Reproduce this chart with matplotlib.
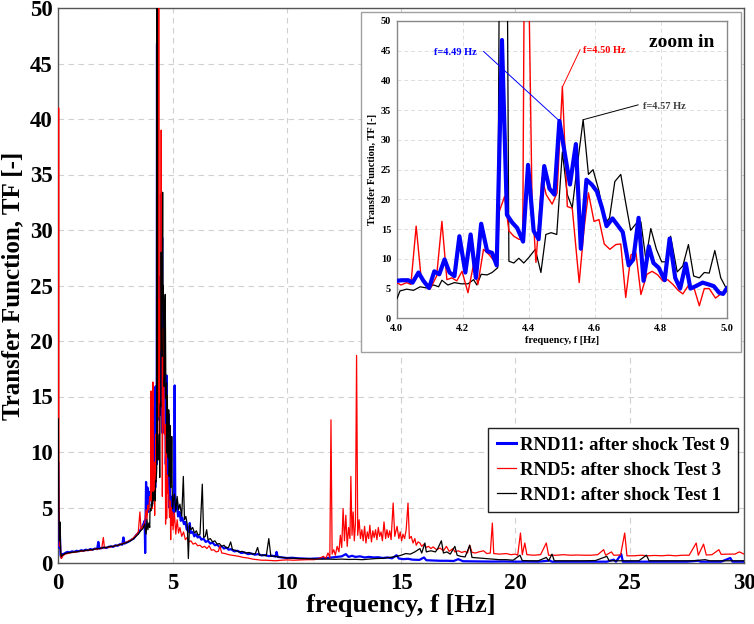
import matplotlib
matplotlib.use("Agg")
import matplotlib.pyplot as plt
from matplotlib.patches import Rectangle
import numpy as np

plt.rcParams['font.family'] = ['Liberation Serif', 'DejaVu Serif']
plt.rcParams['font.weight'] = 'bold'

# ---------------- data (frequency [Hz], TF [-]) ----------------
blue_low = [(0.00, 9.0), (0.02, 3.5), (0.04, 1.4), (0.07, 2.6), (0.10, 0.7), (0.13, 0.5), (0.17, 0.8),
            (0.22, 0.8), (0.30, 0.9), (0.40, 1.0), (0.50, 0.95), (0.60, 1.05), (0.70, 1.0), (0.80, 1.1),
            (0.90, 1.05), (1.00, 1.15), (1.10, 1.1), (1.20, 1.2), (1.30, 1.15), (1.40, 1.25), (1.50, 1.2),
            (1.60, 1.3), (1.70, 1.25), (1.75, 1.9), (1.80, 1.3), (1.90, 1.35), (2.00, 1.4), (2.10, 1.35),
            (2.20, 1.45), (2.30, 1.5), (2.40, 1.45), (2.50, 1.6), (2.60, 1.55), (2.70, 1.7), (2.80, 1.65),
            (2.85, 2.3), (2.90, 1.75), (3.00, 1.85), (3.10, 1.95), (3.20, 2.1), (3.30, 2.2), (3.40, 2.5),
            (3.50, 2.7), (3.60, 3.0), (3.70, 3.4), (3.78, 3.8), (3.80, 0.9), (3.84, 7.3), (3.87, 4.5),
            (3.90, 6.8), (3.93, 4.6), (3.96, 5.5)]
blue_zoom = [(4.000, 6.3), (4.015, 6.4), (4.035, 6.4), (4.048, 6.0), (4.066, 7.7), (4.081, 6.3), (4.098, 5.1),
             (4.114, 7.9), (4.129, 7.4), (4.145, 9.9), (4.160, 7.7), (4.175, 7.1), (4.190, 13.8), (4.208, 7.7),
             (4.224, 14.1), (4.240, 6.8), (4.256, 15.9), (4.274, 11.3), (4.289, 11.0), (4.303, 8.9),
             (4.319, 46.8), (4.334, 17.4), (4.350, 16.1), (4.365, 15.2), (4.383, 12.9), (4.398, 25.8),
             (4.415, 14.7), (4.430, 13.3), (4.447, 25.6), (4.463, 21.8), (4.478, 20.8), (4.493, 33.2),
             (4.525, 22.5), (4.543, 29.3), (4.558, 11.7), (4.575, 23.3), (4.591, 22.5), (4.607, 21.3),
             (4.622, 18.6), (4.636, 15.5), (4.654, 16.8), (4.669, 15.7), (4.685, 14.5), (4.703, 8.9),
             (4.717, 9.9), (4.733, 16.9), (4.748, 6.3), (4.764, 12.1), (4.778, 9.3), (4.794, 8.5),
             (4.812, 6.4), (4.827, 13.4), (4.844, 6.8), (4.859, 5.0), (4.876, 9.2), (4.890, 5.0),
             (4.906, 5.4), (4.927, 6.0), (4.945, 5.7), (4.961, 5.4), (4.977, 4.3), (4.989, 4.1), (5.000, 5.0)]
blue_high = [(5.02, 6.0), (5.06, 4.5), (5.09, 16.0), (5.12, 4.8), (5.18, 5.7), (5.24, 4.2), (5.30, 4.6),
             (5.36, 3.8), (5.42, 4.1), (5.50, 3.5), (5.56, 3.7), (5.62, 3.0), (5.70, 3.2), (5.72, 2.8),
             (5.75, 3.6), (5.80, 2.7), (5.88, 2.8), (5.95, 2.4), (6.02, 2.6), (6.10, 2.3), (6.18, 2.4),
             (6.26, 2.1), (6.35, 2.2), (6.45, 1.9), (6.55, 2.0), (6.65, 1.75), (6.75, 1.85), (6.85, 1.6),
             (6.95, 1.65), (7.05, 1.45), (7.15, 1.5), (7.25, 1.3), (7.35, 1.4), (7.45, 1.2), (7.55, 1.25),
             (7.70, 1.05), (7.85, 1.1), (8.00, 0.9), (8.15, 0.95), (8.30, 0.8), (8.45, 0.85), (8.60, 0.75),
             (8.75, 0.8), (8.90, 0.68), (9.05, 0.72), (9.20, 0.62), (9.35, 0.66), (9.50, 0.58), (9.55, 1.0),
             (9.60, 0.55), (9.80, 0.5), (10.0, 0.45), (10.25, 0.47), (10.5, 0.42), (10.75, 0.4), (11.0, 0.38),
             (11.25, 0.4), (11.5, 0.42), (11.75, 0.45), (12.0, 0.5), (12.2, 0.55), (12.4, 0.6), (12.58, 0.8),
             (12.7, 0.55), (12.85, 0.65), (13.0, 0.55), (13.2, 0.6), (13.4, 0.5), (13.6, 0.55), (13.8, 0.5),
             (14.0, 0.52), (14.2, 0.45), (14.4, 0.5), (14.6, 0.42), (14.8, 0.7), (14.9, 0.4), (15.1, 0.35),
             (15.3, 0.38), (15.5, 0.3), (15.8, 0.28), (16.0, 0.5), (16.1, 0.25), (16.4, 0.22), (16.7, 0.2),
             (17.0, 0.2), (17.3, 0.18), (17.5, 0.35), (17.7, 0.16), (18.0, 0.15), (18.5, 0.14), (19.0, 0.13),
             (19.5, 0.14), (20.0, 0.12), (20.5, 0.13), (21.0, 0.12), (21.5, 0.22), (21.6, 0.12), (22.0, 0.12),
             (22.5, 0.13), (23.0, 0.12), (23.5, 0.13), (24.0, 0.12), (24.3, 0.3), (24.4, 0.12), (24.63, 0.8),
             (24.7, 0.12), (25.0, 0.12), (25.5, 0.13), (26.0, 0.12), (26.5, 0.13), (27.0, 0.12), (27.5, 0.12),
             (28.0, 0.2), (28.1, 0.12), (28.5, 0.12), (29.0, 0.12), (29.4, 0.45), (29.5, 0.12), (30.0, 0.12)]

red_low = [(0.00, 8.0), (0.015, 41.0), (0.03, 6.0), (0.05, 1.5), (0.08, 2.8), (0.11, 0.5), (0.14, 0.4),
           (0.18, 0.6), (0.24, 0.7), (0.30, 0.8), (0.40, 0.85), (0.50, 0.9), (0.60, 0.95), (0.70, 0.95),
           (0.80, 1.0), (0.90, 1.05), (1.00, 1.05), (1.10, 1.1), (1.20, 1.1), (1.30, 1.15), (1.40, 1.15),
           (1.50, 1.2), (1.60, 1.25), (1.70, 1.25), (1.80, 1.3), (1.90, 1.3), (1.97, 2.3), (2.02, 1.35),
           (2.10, 1.4), (2.20, 1.4), (2.30, 1.45), (2.40, 1.5), (2.50, 1.55), (2.60, 1.6), (2.70, 1.65),
           (2.80, 1.75), (2.90, 1.8), (3.00, 1.9), (3.10, 2.0), (3.20, 2.1), (3.30, 2.3), (3.40, 2.5),
           (3.50, 2.8), (3.57, 4.6), (3.62, 3.0), (3.70, 3.3), (3.78, 3.6), (3.84, 4.8), (3.88, 3.9),
           (3.92, 5.2), (3.96, 4.8)]
red_zoom = [(4.000, 6.0), (4.013, 5.6), (4.030, 6.0), (4.043, 5.7), (4.059, 15.5), (4.074, 6.8), (4.088, 6.0),
            (4.101, 4.9), (4.121, 7.1), (4.137, 16.3), (4.152, 6.5), (4.167, 6.8), (4.182, 6.3), (4.198, 7.9),
            (4.216, 4.3), (4.233, 9.1), (4.246, 5.7), (4.263, 11.6), (4.280, 10.7), (4.296, 9.6),
            (4.304, 9.6), (4.311, 18.0), (4.327, 20.5), (4.340, 14.7), (4.355, 13.8), (4.370, 13.3),
            (4.382, 13.2), (4.390, 95.0), (4.410, 20.0), (4.422, 9.4), (4.440, 23.7), (4.453, 20.8),
            (4.471, 19.2), (4.486, 21.1), (4.502, 39.0), (4.517, 18.8), (4.532, 18.5), (4.553, 6.0),
            (4.568, 15.2), (4.581, 21.1), (4.598, 16.3), (4.613, 16.6), (4.629, 12.5), (4.646, 11.6),
            (4.664, 12.4), (4.679, 12.5), (4.694, 3.5), (4.710, 10.7), (4.725, 11.0), (4.740, 4.0),
            (4.758, 7.4), (4.774, 7.9), (4.791, 7.3), (4.806, 6.3), (4.821, 6.5), (4.837, 5.7), (4.853, 4.7),
            (4.867, 4.1), (4.885, 5.6), (4.902, 4.9), (4.917, 2.1), (4.932, 5.0), (4.947, 5.0), (4.966, 3.4),
            (4.980, 4.0), (5.000, 4.6)]
red_high = [(5.02, 3.0), (5.08, 4.5), (5.14, 2.6), (5.20, 3.9), (5.26, 2.7), (5.32, 3.2), (5.40, 2.4),
            (5.48, 2.8), (5.56, 2.1), (5.64, 2.3), (5.72, 1.9), (5.80, 2.0), (5.90, 1.7), (6.00, 1.8),
            (6.10, 1.55), (6.20, 1.6), (6.30, 1.4), (6.40, 1.5), (6.50, 1.3), (6.60, 1.55), (6.70, 1.15),
            (6.80, 1.2), (6.90, 1.0), (7.00, 1.05), (7.07, 1.5), (7.15, 0.9), (7.30, 0.85), (7.45, 0.75),
            (7.60, 0.7), (7.75, 0.65), (7.90, 0.6), (8.10, 0.5), (8.30, 0.45), (8.50, 0.35), (8.70, 0.3),
            (8.90, 0.25), (9.10, 0.25), (9.30, 0.22), (9.50, 0.2), (9.75, 0.25), (10.0, 0.28), (10.3, 0.25),
            (10.6, 0.28), (10.9, 0.3), (11.2, 0.3), (11.4, 0.4), (11.6, 0.6), (11.7, 0.4), (11.8, 0.9),
            (11.88, 0.5), (11.93, 12.9), (11.98, 0.8), (12.05, 1.2), (12.12, 0.7), (12.2, 1.5), (12.28, 1.0),
            (12.34, 2.5), (12.40, 1.4), (12.46, 4.9), (12.52, 2.0), (12.58, 4.3), (12.64, 1.5), (12.70, 3.2),
            (12.76, 2.2), (12.80, 7.8), (12.85, 2.5), (12.90, 4.6), (12.95, 2.0), (13.00, 3.5), (13.05, 18.7),
            (13.10, 2.5), (13.16, 3.9), (13.22, 2.2), (13.28, 3.0), (13.34, 2.0), (13.40, 3.3), (13.46, 1.8),
            (13.52, 2.8), (13.58, 2.2), (13.63, 3.4), (13.70, 1.9), (13.76, 2.9), (13.82, 2.3), (13.88, 3.0),
            (13.94, 2.1), (14.00, 3.2), (14.06, 2.4), (14.12, 2.8), (14.18, 2.0), (14.25, 3.7), (14.32, 2.2),
            (14.38, 3.0), (14.44, 2.3), (14.50, 2.9), (14.56, 2.1), (14.65, 5.4), (14.72, 2.4), (14.82, 3.3),
            (14.90, 2.2), (14.96, 2.8), (15.02, 2.0), (15.08, 2.6), (15.15, 2.2), (15.22, 3.0), (15.30, 5.4),
            (15.36, 2.2), (15.44, 2.4), (15.52, 1.8), (15.60, 2.2), (15.66, 1.6), (15.74, 1.9), (15.82, 1.8),
            (15.90, 1.5), (16.0, 1.7), (16.1, 1.4), (16.2, 1.5), (16.3, 1.3), (16.4, 1.45), (16.55, 1.2),
            (16.7, 1.35), (16.85, 1.1), (16.98, 1.5), (17.1, 1.05), (17.27, 1.3), (17.35, 1.0), (17.5, 1.1),
            (17.65, 0.95), (17.8, 1.05), (17.9, 0.9), (18.0, 1.6), (18.1, 0.95), (18.25, 0.9), (18.4, 1.0),
            (18.6, 1.1), (18.75, 0.85), (18.9, 0.9), (18.99, 3.6), (19.05, 0.85), (19.3, 0.8), (19.6, 0.85),
            (19.8, 0.75), (20.0, 0.8), (20.1, 0.7), (20.22, 2.7), (20.3, 0.75), (20.41, 1.8), (20.5, 0.75),
            (20.8, 0.7), (21.1, 0.75), (21.35, 1.8), (21.45, 0.7), (21.8, 0.7), (22.1, 0.75), (22.4, 0.7),
            (22.7, 0.72), (23.0, 0.7), (23.3, 0.7), (23.6, 0.75), (23.86, 1.2), (23.95, 0.7), (24.2, 1.0),
            (24.3, 0.7), (24.6, 0.72), (24.78, 2.7), (24.88, 0.65), (25.2, 0.65), (25.5, 0.7), (25.8, 0.65),
            (26.1, 0.68), (26.4, 0.65), (26.7, 0.7), (27.0, 0.65), (27.3, 0.7), (27.6, 0.7), (27.91, 1.8),
            (28.0, 0.7), (28.23, 1.7), (28.35, 0.72), (28.6, 0.75), (28.9, 1.2), (29.0, 0.78), (29.3, 0.8),
            (29.6, 0.8), (29.8, 1.0), (30.0, 0.8)]

black_low = [(0.00, 13.0), (0.02, 5.0), (0.05, 2.0), (0.07, 3.7), (0.10, 1.0), (0.13, 0.6), (0.17, 0.7),
             (0.22, 0.75), (0.30, 0.85), (0.40, 0.9), (0.50, 0.95), (0.60, 0.95), (0.70, 1.0), (0.80, 1.0),
             (0.90, 1.05), (1.00, 1.1), (1.10, 1.1), (1.20, 1.15), (1.30, 1.15), (1.40, 1.2), (1.50, 1.2),
             (1.60, 1.25), (1.70, 1.3), (1.80, 1.3), (1.90, 1.35), (2.00, 1.4), (2.10, 1.4), (2.20, 1.45),
             (2.30, 1.5), (2.40, 1.5), (2.50, 1.55), (2.60, 1.6), (2.70, 1.65), (2.80, 1.7), (2.90, 1.8),
             (3.00, 1.85), (3.10, 1.95), (3.20, 2.05), (3.30, 2.2), (3.40, 2.4), (3.50, 2.6), (3.60, 2.9),
             (3.70, 3.1), (3.78, 3.5), (3.84, 2.6), (3.88, 3.9), (3.92, 3.0), (3.96, 3.6)]
black_zoom = [(4.000, 3.2), (4.010, 4.6), (4.030, 4.9), (4.051, 4.7), (4.071, 5.3), (4.091, 5.1), (4.112, 5.6),
              (4.127, 5.3), (4.137, 6.4), (4.155, 5.6), (4.175, 6.0), (4.196, 5.8), (4.216, 5.8), (4.233, 6.5),
              (4.243, 5.6), (4.256, 7.4), (4.274, 7.3), (4.289, 7.7), (4.306, 8.5), (4.316, 110.0),
              (4.330, 110.0), (4.340, 9.6), (4.355, 9.3), (4.370, 10.1), (4.385, 9.3), (4.400, 10.2),
              (4.420, 11.6), (4.437, 7.7), (4.452, 14.1), (4.468, 14.4), (4.485, 14.1), (4.502, 28.0),
              (4.517, 20.8), (4.532, 18.6), (4.548, 26.0), (4.565, 33.4), (4.581, 24.2), (4.595, 25.0),
              (4.613, 21.4), (4.631, 15.9), (4.645, 16.9), (4.661, 23.0), (4.679, 24.2), (4.694, 19.4),
              (4.709, 14.8), (4.725, 15.9), (4.740, 16.2), (4.755, 9.9), (4.770, 15.1), (4.787, 11.6),
              (4.803, 9.5), (4.820, 9.5), (4.830, 13.8), (4.850, 7.8), (4.867, 8.8), (4.884, 12.4),
              (4.900, 7.1), (4.917, 6.8), (4.932, 7.7), (4.947, 7.6), (4.964, 11.4), (4.982, 6.8), (5.000, 4.9)]
black_high = [(5.02, 5.5), (5.08, 6.2), (5.14, 4.6), (5.20, 6.0), (5.26, 4.8), (5.32, 5.3), (5.40, 4.2),
              (5.47, 7.8), (5.52, 3.9), (5.58, 4.2), (5.64, 3.5), (5.69, 0.4), (5.74, 3.4), (5.80, 3.0),
              (5.88, 3.2), (5.96, 2.7), (6.04, 2.9), (6.12, 2.5), (6.20, 2.6), (6.30, 7.1), (6.36, 2.3),
              (6.43, 2.4), (6.49, 3.0), (6.55, 2.1), (6.65, 2.2), (6.75, 1.9), (6.85, 2.0), (6.95, 1.7),
              (7.05, 1.75), (7.15, 1.5), (7.25, 1.6), (7.35, 1.35), (7.45, 1.4), (7.54, 1.9), (7.62, 1.2),
              (7.75, 1.15), (7.90, 1.0), (8.05, 1.05), (8.20, 0.9), (8.35, 0.95), (8.50, 0.8), (8.62, 0.85),
              (8.72, 1.4), (8.80, 0.7), (8.95, 0.72), (9.10, 0.65), (9.21, 2.2), (9.30, 0.6), (9.45, 0.62),
              (9.60, 0.55), (9.80, 0.5), (10.0, 0.45), (10.3, 0.42), (10.6, 0.4), (10.9, 0.38), (11.2, 0.36),
              (11.5, 0.35), (11.8, 0.35), (12.1, 0.33), (12.4, 0.35), (12.7, 0.32), (13.0, 0.33), (13.3, 0.3),
              (13.6, 0.35), (13.9, 0.4), (14.2, 0.42), (14.5, 0.5), (14.8, 0.6), (15.0, 0.7), (15.2, 0.85),
              (15.4, 0.8), (15.6, 1.0), (15.82, 1.3), (15.9, 0.9), (16.04, 1.8), (16.1, 1.0), (16.3, 1.1),
              (16.5, 1.0), (16.6, 1.3), (16.76, 2.0), (16.85, 0.9), (17.0, 1.0), (17.15, 0.8), (17.35, 1.5),
              (17.45, 0.7), (17.6, 0.6), (17.8, 0.55), (18.0, 1.6), (18.1, 0.5), (18.4, 0.45), (18.7, 0.4),
              (19.0, 0.35), (19.3, 0.3), (19.6, 0.3), (19.9, 0.25), (20.2, 0.7), (20.3, 0.22), (20.6, 0.2),
              (21.0, 0.2), (21.35, 0.5), (21.45, 0.2), (21.6, 0.8), (21.7, 0.2), (22.0, 0.2), (22.5, 0.2),
              (23.0, 0.2), (23.5, 0.22), (24.0, 0.6), (24.1, 0.2), (24.5, 0.2), (25.0, 0.2), (25.4, 0.2),
              (25.73, 0.7), (25.85, 0.2), (26.3, 0.2), (26.8, 0.2), (27.3, 0.2), (27.8, 0.2), (28.3, 0.3),
              (28.5, 0.2), (29.0, 0.2), (29.5, 0.2), (30.0, 0.2)]

labels = ["RND11: after shock Test 9", "RND5: after shock Test 3", "RND1: after shock Test 1"]
main_xticks = [0, 5, 10, 15, 20, 25, 30]
main_yticks = [0, 5, 10, 15, 20, 25, 30, 35, 40, 45, 50]
inset_xticks = [4.0, 4.2, 4.4, 4.6, 4.8, 5.0]

def unzip(*segs):
    pts = [p for s in segs for p in s]
    return np.array([p[0] for p in pts]), np.array([p[1] for p in pts])

bf, bv = unzip(blue_low, blue_zoom, blue_high)
rf, rv = unzip(red_low, red_zoom, red_high)
kf, kv = unzip(black_low, black_zoom, black_high)

BLUE = '#0000ff'
RED = '#ff0000'
BLACK = '#000000'

W, H = 754, 624
fig = plt.figure(figsize=(W / 100, H / 100), dpi=100)
ax = fig.add_axes([58.3 / W, 1 - 563 / H, (744 - 58.3) / W, (563 - 8) / H])

lb, = ax.plot(bf, bv, color=BLUE, lw=1.6, zorder=3)
lr, = ax.plot(rf, rv, color=RED, lw=0.9, zorder=4)
lk, = ax.plot(kf, kv, color=BLACK, lw=0.9, zorder=5)

ax.set_xlim(0, 30)
ax.set_ylim(0, 50)
ax.set_xticks(main_xticks)
ax.set_yticks(main_yticks)
ax.tick_params(length=0, labelsize=16.5)
ax.tick_params(axis='y', pad=4)
ax.tick_params(axis='x', pad=7)
for t in ax.get_xticklabels() + ax.get_yticklabels():
    t.set_fontweight('bold')
ax.grid(True, color='#d0d0d0', lw=0.8, linestyle=(0, (5, 4)))
ax.set_axisbelow(True)
for s in ax.spines.values():
    s.set_color('#555555')
    s.set_linewidth(1.0)
ax.set_xlabel("frequency, f [Hz]", fontsize=19, fontweight='bold')
ax.xaxis.set_label_coords(0.5, -0.056)
ax.xaxis.label.set_va('top')
ax.set_ylabel("Transfer Function, TF [-]", fontsize=18, fontweight='bold')
ax.yaxis.set_label_coords(-0.049, 0.5)

leg = ax.legend([lb, lr, lk], labels, loc='lower right', bbox_to_anchor=(0.991, 0.092),
                fancybox=False, framealpha=1, edgecolor='#222222', fontsize=13.5,
                handlelength=1.05, handletextpad=0.2, borderpad=0.45, labelspacing=0.42,
                borderaxespad=0)
leg.get_frame().set_linewidth(1.0)
for t in leg.get_texts():
    t.set_fontweight('bold')
leg.legend_handles[0].set_linewidth(2.2)
leg.set_zorder(10)

# white box behind the inset
box = Rectangle((361 / W, 1 - 352 / H), (741 - 361) / W, (352 - 12) / H, transform=fig.transFigure,
                facecolor='white', edgecolor='#a0a0a0', lw=1.0, zorder=2)
fig.patches.append(box)

ins = fig.add_axes([396.7 / W, 1 - 318.3 / H, (726.7 - 396.7) / W, (318.3 - 21) / H])
ins.set_zorder(5)
ins.plot(kf, kv, color=BLACK, lw=0.9, zorder=3)
ins.plot(rf, rv, color=RED, lw=1.0, zorder=4)
ins.plot(bf, bv, color=BLUE, lw=3.0, zorder=5)
ins.set_xlim(4.0, 5.0)
ins.set_ylim(0, 50)
ins.set_xticks(inset_xticks)
ins.set_xticklabels([f"{v:.1f}" for v in inset_xticks])
ins.set_yticks(main_yticks)
ins.tick_params(length=0, labelsize=7.5, pad=4)
for t in ins.get_xticklabels() + ins.get_yticklabels():
    t.set_fontweight('bold')
ins.grid(True, color='#dddddd', lw=0.7, linestyle=(0, (4, 3)))
ins.set_axisbelow(True)
for s in ins.spines.values():
    s.set_color('#888888')
    s.set_linewidth(1.0)
ins.set_xlabel("frequency, f [Hz]", fontsize=7.5, fontweight='bold', labelpad=2)
ins.set_ylabel("Transfer Function, TF [-]", fontsize=7.5, fontweight='bold', labelpad=3)

ins.text(4.113, 44.7, "f=4.49 Hz", color=BLUE, fontsize=7.5, fontweight='bold', va='center', ha='left', zorder=6)
ins.annotate('', xy=(4.493, 33.2), xytext=(4.263, 44.9),
             arrowprops=dict(arrowstyle='-', color=BLUE, lw=0.7, shrinkA=0, shrinkB=0), zorder=6)
ins.text(4.564, 45.0, "f=4.50 Hz", color=RED, fontsize=7.5, fontweight='bold', va='center', ha='left', zorder=6)
ins.annotate('', xy=(4.503, 39.0), xytext=(4.556, 45.2),
             arrowprops=dict(arrowstyle='-', color=RED, lw=0.7, shrinkA=0, shrinkB=0), zorder=6)
ins.text(4.747, 35.7, "f=4.57 Hz", color='#404040', fontsize=7.5, fontweight='bold', va='center', ha='left', zorder=6)
ins.annotate('', xy=(4.565, 33.4), xytext=(4.732, 35.9),
             arrowprops=dict(arrowstyle='-', color=BLACK, lw=0.7, shrinkA=0, shrinkB=0), zorder=6)
ins.text(4.766, 46.4, "zoom in", color=BLACK, fontsize=14, fontweight='bold', va='center', ha='left', zorder=6)

fig.savefig("out.png", dpi=100)
